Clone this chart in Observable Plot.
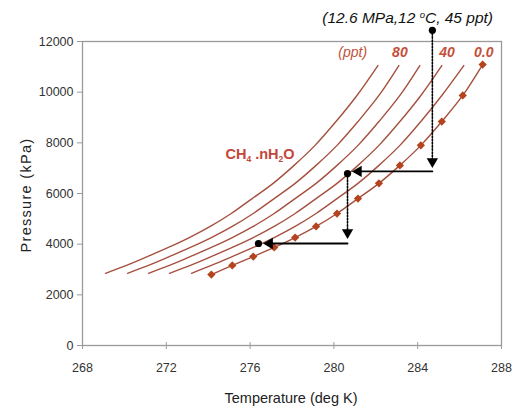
<!DOCTYPE html>
<html><head><meta charset="utf-8">
<script src="https://cdn.jsdelivr.net/npm/d3@7"></script>
<script src="https://cdn.jsdelivr.net/npm/@observablehq/plot@0.6"></script>
<style>
body{margin:0;background:#fff;}
svg{font-family:"Liberation Sans",Arial,sans-serif;}
</style>
</head><body><div id="chart"></div>
<script>
// ---- data ----
const salinities = [0, 20, 40, 60, 80, 100]; // ppt
const pressures0 = [2800, 3160, 3510, 3870, 4260, 4700, 5210, 5800, 6400, 7110, 7900, 8840, 9870, 11090];
const pressuresS = [2850, 3160, 3510, 3870, 4260, 4700, 5210, 5800, 6400, 7110, 7900, 8840, 9870, 11050];
const temps0   = [274.15, 275.15, 276.15, 277.15, 278.15, 279.15, 280.15, 281.15, 282.15, 283.15, 284.15, 285.15, 286.15, 287.1];
const temps20  = [273.2, 274.15, 275.15, 276.15, 277.15, 278.15, 279.15, 280.15, 281.15, 282.15, 283.15, 284.15, 285.15, 286.2];
const temps40  = [272.15, 273.15, 274.15, 275.15, 276.15, 277.15, 278.15, 279.15, 280.15, 281.15, 282.15, 283.15, 284.15, 285.15];
const temps60  = [271.15, 272.15, 273.15, 274.15, 275.15, 276.15, 277.15, 278.15, 279.15, 280.15, 281.15, 282.15, 283.15, 284.1];
const temps80  = [270.15, 271.15, 272.15, 273.15, 274.15, 275.15, 276.15, 277.15, 278.15, 279.15, 280.15, 281.15, 282.15, 283.1];
const temps100 = [269.1, 270.1, 271.1, 272.1, 273.1, 274.1, 275.1, 276.1, 277.1, 278.1, 279.1, 280.1, 281.1, 282.1];
const xTicks = [268, 272, 276, 280, 284, 288];
const yTicks = [0, 2000, 4000, 6000, 8000, 10000, 12000];
const legendLabels = [
  {T: 280.9, P: 11560, text: "(ppt)", bold: false},
  {T: 283.15, P: 11560, text: "80", bold: true},
  {T: 285.4, P: 11560, text: "40", bold: true},
  {T: 287.15, P: 11560, text: "0.0", bold: true}
];
// process path annotation (12.6 MPa, 12 C, 45 ppt)
const dotsBlack = [{T: 284.7, P: 12440}, {T: 280.65, P: 6790}, {T: 276.4, P: 4027}];
const dottedPaths = [
  [{T: 284.7, P: 12440}, {T: 284.7, P: 7300}],
  [{T: 280.65, P: 6790}, {T: 280.65, P: 4480}]
];
const solidPaths = [
  [{T: 284.7, P: 6870}, {T: 281.3, P: 6870}],
  [{T: 280.65, P: 4027}, {T: 277.0, P: 4027}]
];
const arrowDown = [{T: 284.7, P: 7264}, {T: 280.65, P: 4461}];
const arrowLeft = [{T: 281.17, P: 6870}, {T: 276.93, P: 4027}];

// ---- tables ----
const tempSeries = [temps0, temps20, temps40, temps60, temps80, temps100];
const curveRows = [];
salinities.forEach((s, i) => {
  const ps = i === 0 ? pressures0 : pressuresS;
  tempSeries[i].forEach((t, j) => curveRows.push({ppt: s, T: t, P: ps[j]}));
});
const diamondRows = temps0.map((t, j) => ({T: t, P: pressures0[j]}));
const dottedRows = dottedPaths.flatMap((p, k) => p.map(d => ({...d, k})));
const solidRows = solidPaths.flatMap((p, k) => p.map(d => ({...d, k})));

const lineColor = "#a5503f";
const labelColor = "#c4503a";

const chart = Plot.plot({
  width: 515, height: 407,
  marginLeft: 82, marginRight: 14, marginTop: 41, marginBottom: 62,
  x: {domain: [268, 288]},
  y: {domain: [0, 12000]},
  style: {fontFamily: "Liberation Sans, Arial, sans-serif", background: "#fff"},
  marks: [
    Plot.frame({stroke: "#9a9a9a", strokeWidth: 1.3}),
    Plot.axisX({ticks: xTicks, tickSize: -3, tickFormat: () => "", stroke: "#9a9a9a", label: null}),
    Plot.axisX({ticks: xTicks, tickSize: 4, tickPadding: 14, fontSize: 12.5, stroke: "#9a9a9a", color: "#333", label: null}),
    Plot.axisY({ticks: yTicks, tickSize: 5, tickPadding: 4, fontSize: 12.5, stroke: "#9a9a9a", color: "#333", tickFormat: d3.format("d"), label: null}),
    Plot.line(curveRows, {x: "T", y: "P", z: "ppt", stroke: lineColor, strokeWidth: 1.4, curve: "catmull-rom"}),
    Plot.dot(diamondRows, {x: "T", y: "P", symbol: "square", rotate: 45, r: 3.3, fill: "#b4441e", stroke: "none"}),
    Plot.line(dottedRows, {x: "T", y: "P", z: "k", stroke: "#000", strokeWidth: 1.6, strokeDasharray: "1.6,1.6"}),
    Plot.line(solidRows, {x: "T", y: "P", z: "k", stroke: "#000", strokeWidth: 1.8}),
    Plot.dot(arrowDown, {x: "T", y: "P", symbol: "triangle", r: 4.2, rotate: 180, fill: "#000"}),
    Plot.dot(arrowLeft, {x: "T", y: "P", symbol: "triangle", r: 4.2, rotate: -90, fill: "#000"}),
    Plot.dot(dotsBlack, {x: "T", y: "P", r: 3.6, fill: "#000"}),
    Plot.text(legendLabels.filter(d => !d.bold), {x: "T", y: "P", text: "text", fill: labelColor, fontSize: 14, fontStyle: "italic"}),
    Plot.text(legendLabels.filter(d => d.bold), {x: "T", y: "P", text: "text", fill: labelColor, fontSize: 14, fontStyle: "italic", fontWeight: "bold"})
  ]
});
document.getElementById("chart").appendChild(chart);

const svg = d3.select(chart);
const sx = chart.scale("x"), sy = chart.scale("y");

// title annotation
const title = svg.append("text")
  .attr("x", 493).attr("y", 23).attr("text-anchor", "end")
  .attr("font-size", 15.5).attr("font-style", "italic").attr("fill", "#111");
title.append("tspan").text("(12.6 MPa,12 ");
title.append("tspan").attr("font-size", 9.5).attr("dy", -5).text("o");
title.append("tspan").attr("dy", 5).text("C, 45 ppt)");

// hydrate label
const ch = svg.append("text")
  .attr("x", sx.apply(276.5)).attr("y", sy.apply(7330)).attr("text-anchor", "middle")
  .attr("font-size", 14.5).attr("font-weight", "bold").attr("fill", "#c4463a");
ch.append("tspan").text("CH");
ch.append("tspan").attr("font-size", 8.5).attr("dy", 3).text("4");
ch.append("tspan").attr("dy", -3).text(" .nH");
ch.append("tspan").attr("font-size", 8.5).attr("dy", 3).text("2");
ch.append("tspan").attr("dy", -3).text("O");

// axis titles
svg.append("text").attr("x", 291).attr("y", 403).attr("text-anchor", "middle")
  .attr("font-size", 14.5).attr("fill", "#222").text("Temperature (deg K)");
svg.append("text").attr("transform", "translate(31,195) rotate(-90)").attr("text-anchor", "middle")
  .attr("font-size", 14.5).attr("letter-spacing", 1.3).attr("fill", "#222").text("Pressure (kPa)");
</script>
</body></html>
